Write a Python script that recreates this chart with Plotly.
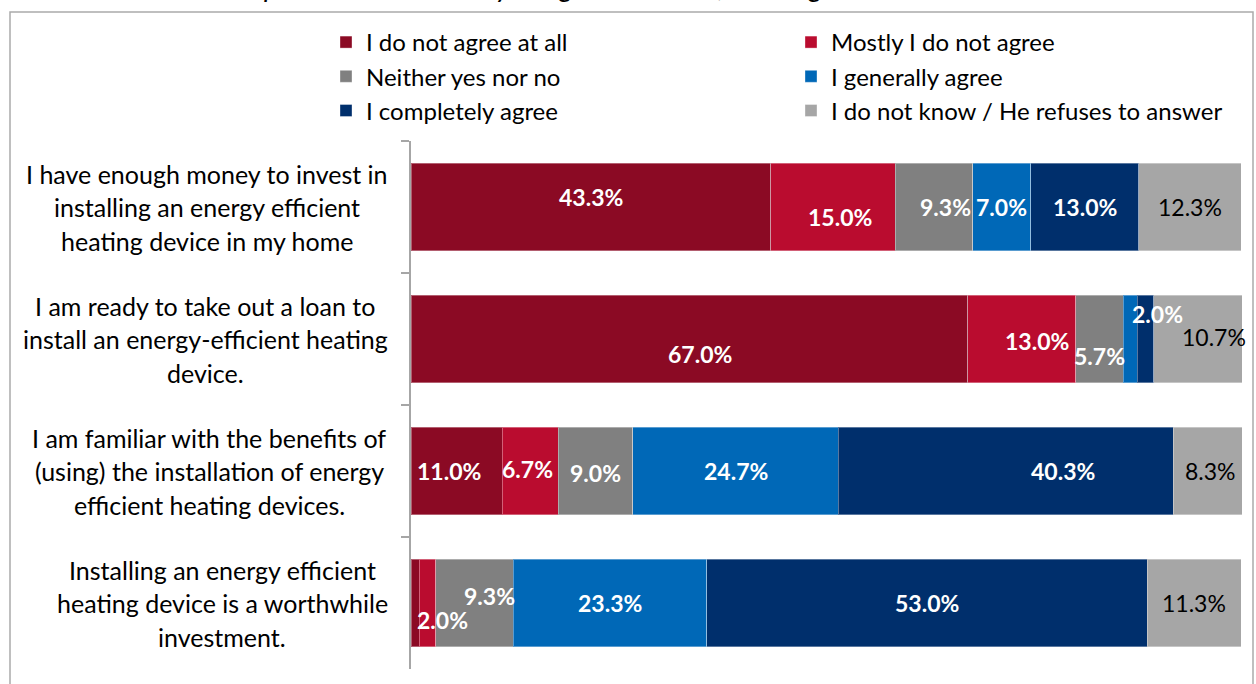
import plotly.graph_objects as go

# Survey statements (wrapped lines) and answer categories
statements = [
    ["I have enough money to invest in", "installing an energy efficient", "heating device in my home"],
    ["I am ready to take out a loan to", "install an energy-efficient heating", "device."],
    ["I am familiar with the benefits of", "(using) the installation of energy", "efficient heating devices."],
    ["Installing an energy efficient", "heating device is a worthwhile", "investment."],
]
answer_names = [
    "I do not agree at all",
    "Mostly I do not agree",
    "Neither yes nor no",
    "I generally agree",
    "I completely agree",
    "I do not know / He refuses to answer",
]

# Shares of respondents (%) per statement, one list per answer
not_agree_at_all = [43.3, 67.0, 11.0, 1.0]
mostly_not_agree = [15.0, 13.0, 6.7, 2.0]
neither_yes_nor_no = [9.3, 5.7, 9.0, 9.3]
generally_agree = [7.0, 1.7, 24.7, 23.3]
completely_agree = [13.0, 2.0, 40.3, 53.0]
do_not_know = [12.3, 10.7, 8.3, 11.3]

title_text = "Graph 1: How much do you agree with the following claims? N=300"

series = [not_agree_at_all, mostly_not_agree, neither_yes_nor_no,
          generally_agree, completely_agree, do_not_know]
colors = ["#8B0A24", "#BA0C2F", "#808080", "#0068B7", "#002F6C", "#A6A6A6"]

# Value labels that are not printed (series index, statement index)
hidden_labels = {(3, 1), (0, 3)}
# Manual nudges of value labels in pixels: (series, statement) -> (dx, dy_down)
label_nudge = {
    (0, 0): (0, -10), (1, 0): (7, 10), (2, 0): (11, 0),
    (0, 1): (11, 15), (1, 1): (15, 2), (2, 1): (0, 17), (4, 1): (12, -25), (5, 1): (16, -2),
    (0, 2): (-8, 0), (1, 2): (-3, -2), (2, 2): (0, 2), (4, 2): (57, 0), (5, 2): (3, 0),
    (1, 3): (15, 17), (2, 3): (15, -7),
}
# Horizontal centre (px) of each wrapped statement label block
label_block_center_px = [207, 205, 209, 222]

W, H = 1256, 684
ML, MR, MT, MB = 411, 14, 141, 15
PW, PH = W - ML - MR, H - MT - MB
FONT = "Lato"

y_keys = [" ".join(s) for s in statements]

fig = go.Figure()
for name, vals, col in zip(answer_names, series, colors):
    fig.add_trace(go.Bar(
        y=y_keys, x=vals, name=name, orientation="h",
        marker=dict(color=col, line=dict(color="rgba(255,255,255,0.35)", width=1)),
        width=0.664, hoverinfo="skip",
    ))

annotations = []
# Value labels placed at the middle of each stacked segment
for i in range(len(statements)):
    cum = 0.0
    for s, vals in enumerate(series):
        v = vals[i]
        mid = cum + v / 2
        cum += v
        if (s, i) in hidden_labels:
            continue
        dx, dy = label_nudge.get((s, i), (0, 0))
        last = s == len(series) - 1
        annotations.append(dict(
            x=mid, y=y_keys[i], xref="x", yref="y",
            text=(f"{v:.1f}%" if last else f"<b>{v:.1f}%</b>"),
            showarrow=False, xanchor="center", yanchor="middle",
            xshift=dx, yshift=-dy,
            font=dict(family=FONT, size=23, color="#000000" if last else "#FFFFFF"),
        ))

# Statement labels, one line per annotation for wider line spacing
line_gap = 33.5
for i, lines in enumerate(statements):
    n = len(lines)
    for k, line in enumerate(lines):
        annotations.append(dict(
            x=(label_block_center_px[i] - ML) / PW, y=y_keys[i],
            xref="paper", yref="y", text=line, showarrow=False,
            xanchor="center", yanchor="middle",
            yshift=((n - 1) / 2 - k) * line_gap,
            font=dict(family=FONT, size=25, color="#000000"),
        ))

# Chart title (top edge of the frame)
annotations.append(dict(
    x=(613 - ML) / PW, y=(MT + PH - 5) / PH, xref="paper", yref="paper",
    text=f"<i>{title_text}</i>", showarrow=False,
    xanchor="center", yanchor="bottom",
    font=dict(family=FONT, size=28, color="#000000"),
))

fig.update_layout(
    width=W, height=H,
    margin=dict(l=ML, r=MR, t=MT, b=MB),
    paper_bgcolor="white", plot_bgcolor="white",
    barmode="stack", bargap=0.336,
    font=dict(family=FONT, color="#000000"),
    xaxis=dict(range=[0, 100], visible=False, fixedrange=True),
    yaxis=dict(
        type="category", categoryorder="array", categoryarray=y_keys,
        range=[3.5, -0.5], showticklabels=False,
        showline=True, linecolor="#A6A6A6", linewidth=1.5,
        ticks="outside", ticklen=8, tickcolor="#A6A6A6", tickwidth=1.5,
        tickson="boundaries", showgrid=False, zeroline=False,
    ),
    legend=dict(
        orientation="h", traceorder="normal",
        x=(360 - ML) / PW, xanchor="left",
        y=(MT + PH - 20) / PH, yanchor="top",
        entrywidth=420, entrywidthmode="pixels",
        font=dict(family=FONT, size=24, color="#000000"),
        bgcolor="rgba(0,0,0,0)",
    ),
    annotations=annotations,
    shapes=[dict(
        type="rect", xref="paper", yref="paper",
        x0=(10 - ML) / PW, x1=(1253 - ML) / PW,
        y0=-0.2, y1=(MT + PH - 12) / PH,
        line=dict(color="#ABABAB", width=1.5), layer="below",
    )],
    showlegend=True,
)

fig.write_html("out.html")
